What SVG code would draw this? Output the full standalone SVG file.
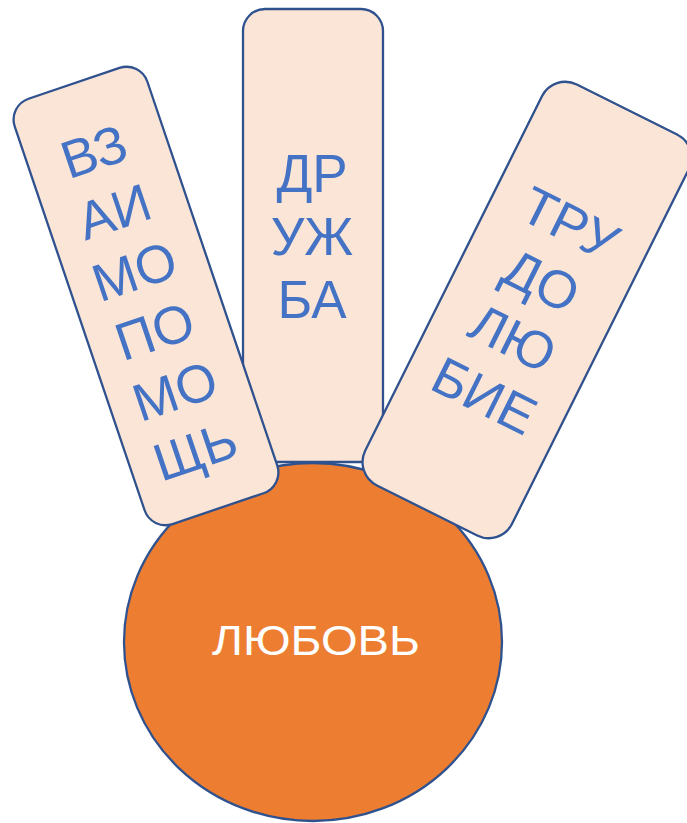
<svg xmlns="http://www.w3.org/2000/svg" width="687" height="823" viewBox="0 0 687 823">
<style>
.card{fill:#FBE5D6;stroke:#2F528F;stroke-width:2.3}
.lbl{font-family:"Liberation Sans",Arial,sans-serif;font-size:53px;fill:#4472C4;text-anchor:middle}
.main{font-family:"Liberation Sans",Arial,sans-serif;font-size:42px;fill:#FFFFFF;text-anchor:middle}
</style>
<rect width="687" height="823" fill="#FFFFFF"/>
<g id="love">
<ellipse cx="313" cy="642" rx="189" ry="179" fill="#ED7D31" stroke="#2F528F" stroke-width="2.3"/>
<text class="main" x="316" y="655" textLength="208" lengthAdjust="spacingAndGlyphs">ЛЮБОВЬ</text>
</g>
<g id="friendship">
<rect class="card" x="243" y="9" width="140" height="453" rx="22" ry="22"/>
<text class="lbl" x="312" y="192">ДР</text>
<text class="lbl" x="312" y="255">УЖ</text>
<text class="lbl" x="312" y="318">БА</text>
</g>
<g id="mutual-help" transform="translate(146,296) rotate(-18.7)">
<rect class="card" x="-70" y="-224.5" width="140" height="449" rx="22" ry="22"/>
<text class="lbl" x="-3" y="-135">ВЗ</text>
<text class="lbl" x="-3" y="-71.8">АИ</text>
<text class="lbl" x="-3" y="-8.6">МО</text>
<text class="lbl" x="-3" y="54.6">ПО</text>
<text class="lbl" x="-3" y="117.8">МО</text>
<text class="lbl" x="-3" y="181">ЩЬ</text>
</g>
<g id="diligence" transform="translate(527,310) rotate(26.5)">
<rect class="card" x="-82" y="-224" width="164" height="448" rx="26" ry="26"/>
<text class="lbl" x="0" y="-78">ТРУ</text>
<text class="lbl" x="0" y="-14">ДО</text>
<text class="lbl" x="0" y="50">ЛЮ</text>
<text class="lbl" x="0" y="114">БИЕ</text>
</g>
<g id="connectors"/>
</svg>
